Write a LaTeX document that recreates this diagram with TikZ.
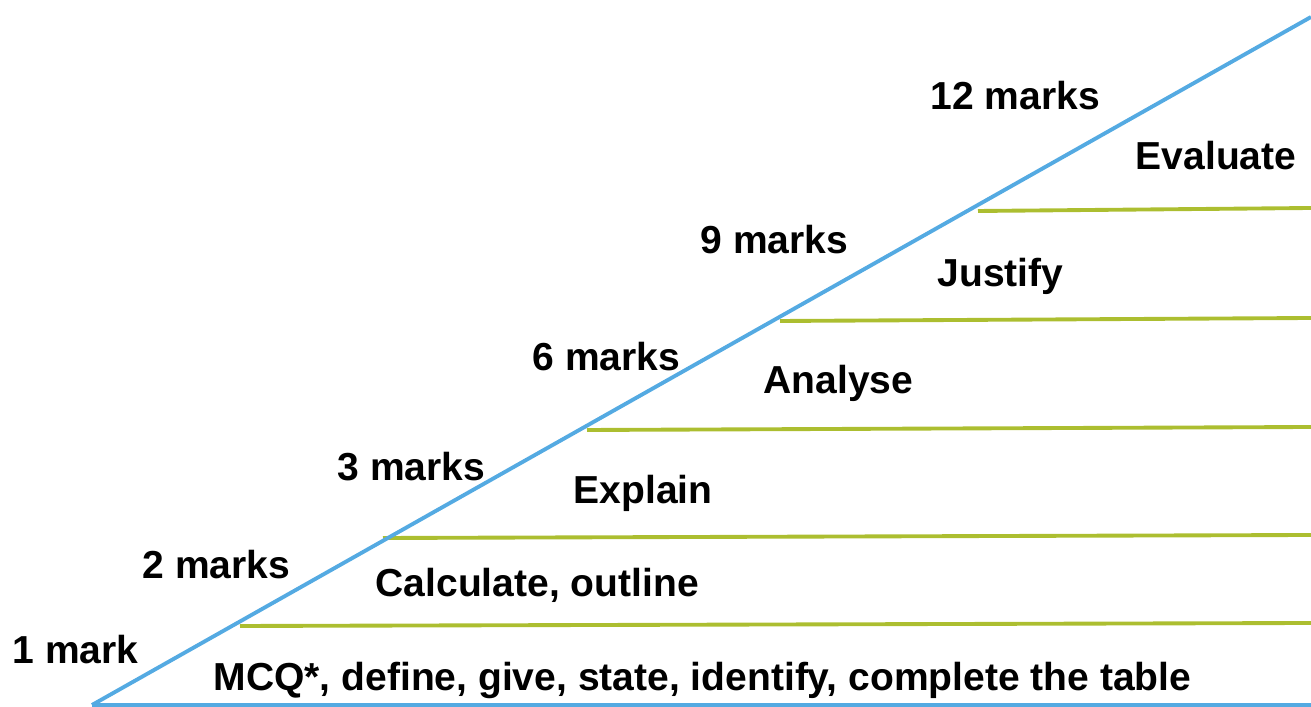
\documentclass[tikz,border=0pt]{standalone}
\usepackage{fontspec}
\setmainfont{Liberation Sans}
\usepackage{tikz}
\definecolor{rampblue}{RGB}{84,170,226}
\definecolor{stepgreen}{RGB}{172,190,48}

\begin{document}
\begin{tikzpicture}[x=0.01cm,y=-0.01cm,
  lbl/.style={anchor=base west,inner sep=0pt,font=\fontsize{11.1}{13}\selectfont\bfseries},
  ramp/.style={rampblue,line width=1.1pt},
  level/.style={stepgreen,line width=1.1pt}]
\useasboundingbox (0,0) rectangle (1311,707);
\coordinate (foot) at (92,705);
\coordinate (top) at (1311,17);
\coordinate (floor) at (1311,705);
\draw[level] (240,626)--(1311,623);
\draw[level] (383,538)--(1311,535);
\draw[level] (587,430)--(1311,427);
\draw[level] (780,321)--(1311,318);
\draw[level] (978,211)--(1311,208);
\draw[ramp] (foot)--(top);
\draw[ramp] (foot)--(floor);
\node[lbl] (m1) at (12,664) {1 mark};
\node[lbl] (m2) at (142,579) {2 marks};
\node[lbl] (m3) at (337,481) {3 marks};
\node[lbl] (m6) at (532,371) {6 marks};
\node[lbl] (m9) at (700,254) {9 marks};
\node[lbl] (m12) at (930,110) {12 marks};
\node[lbl] (w1) at (213,691) {MCQ*, define, give, state, identify, complete the table};
\node[lbl] (w2) at (375,597) {Calculate, outline};
\node[lbl] (w3) at (573,504) {Explain};
\node[lbl] (w6) at (763,394) {Analyse};
\node[lbl] (w9) at (937,287) {Justify};
\node[lbl] (w12) at (1135,170) {Evaluate};
\end{tikzpicture}
\end{document}
